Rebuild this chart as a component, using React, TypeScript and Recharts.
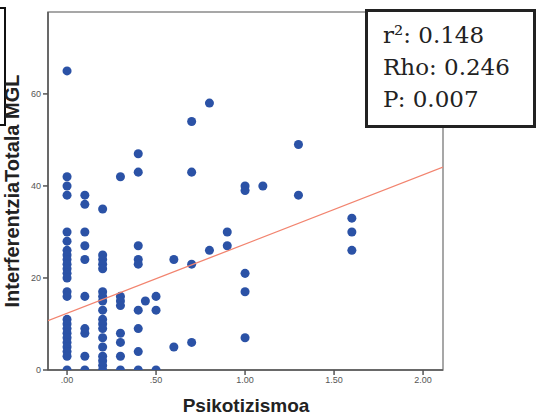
import React from 'react';
import { ScatterChart, Scatter, XAxis, YAxis, ZAxis, ReferenceArea } from 'recharts';

// values, grouped by Psikotizismoa level
const yAt000 = [65, 42, 40, 38, 30, 28, 26, 25, 24, 23, 22, 21, 20, 17, 16, 11, 10, 9, 8, 7, 6, 5, 4, 3, 0];
const yAt010 = [38, 36, 30, 27, 24, 16, 9, 8, 3, 0];
const yAt020 = [35, 25, 24, 23, 22, 17, 16, 15, 13, 11, 10, 9, 7, 5, 3, 2, 1, 0];
const yAt030 = [42, 16, 15, 14, 8, 6, 3, 0];
const yAt040 = [47, 43, 27, 24, 23, 13, 9, 4, 0];
const yAt044 = [15];
const yAt050 = [16, 13, 0];
const yAt060 = [24, 5];
const yAt070 = [54, 43, 23, 6];
const yAt080 = [58, 26];
const yAt090 = [30, 27];
const yAt100 = [40, 39, 21, 17, 7];
const yAt110 = [40];
const yAt130 = [49, 38];
const yAt160 = [33, 30, 26];

const xLevels = [0, 0.1, 0.2, 0.3, 0.4, 0.44, 0.5, 0.6, 0.7, 0.8, 0.9, 1.0, 1.1, 1.3, 1.6];
const yGroups = [yAt000, yAt010, yAt020, yAt030, yAt040, yAt044, yAt050, yAt060, yAt070, yAt080, yAt090, yAt100, yAt110, yAt130, yAt160];

// fit line end points (at the frame edges)
const fitLine = [
  { x: -0.107, y: 10.7 },
  { x: 2.112, y: 44.1 },
];

const xDomain = [-0.107, 2.112];
const yDomain = [0, 77.8];
const xTicks = [0, 0.5, 1, 1.5, 2];
const xTickLabels = ['.00', '.50', '1.00', '1.50', '2.00'];
const yTicks = [0, 20, 40, 60];

const stats = ['r²: 0.148', 'Rho: 0.246', 'P: 0.007'];

const points = xLevels.flatMap((x, i) => yGroups[i].map((y) => ({ x, y })));

const sans = '"Liberation Sans", Arial, sans-serif';

export default function App() {
  return (
    <div style={{ position: 'absolute', left: 0, top: 0, width: 538, height: 417, background: '#fff', fontFamily: sans }}>
      <ScatterChart width={538} height={417} margin={{ top: 12, right: 95, bottom: 17, left: 20 }}>
        <XAxis
          type="number"
          dataKey="x"
          domain={xDomain}
          ticks={xTicks}
          allowDataOverflow
          height={30}
          tickSize={5}
          tickFormatter={(v) => xTickLabels[xTicks.indexOf(v)] ?? ''}
          tick={{ fontSize: 9, fill: '#555' }}
          stroke="#555"
          strokeWidth={1.5}
        />
        <YAxis
          type="number"
          dataKey="y"
          domain={yDomain}
          ticks={yTicks}
          allowDataOverflow
          width={28}
          tickSize={5}
          tick={{ fontSize: 9, fill: '#555' }}
          stroke="#555"
          strokeWidth={1.5}
        />
        <ZAxis range={[30, 30]} />
        <ReferenceArea x1={xDomain[0]} x2={xDomain[1]} y1={yDomain[0]} y2={yDomain[1]} fill="none" stroke="#8a8a8a" strokeWidth={1.5} />
        <Scatter data={points} fill="#2b52a6" isAnimationActive={false} />
        <Scatter
          data={fitLine}
          line={{ stroke: '#f2846f', strokeWidth: 1.3 }}
          shape={() => null}
          isAnimationActive={false}
        />
      </ScatterChart>

      {/* cropped box at the left edge */}
      <div style={{ position: 'absolute', left: -12, top: 7, width: 18, height: 119, border: '2.5px solid #111', boxSizing: 'border-box' }} />

      <div
        style={{
          position: 'absolute', left: -138, top: 179, width: 300, height: 24, lineHeight: '24px',
          textAlign: 'center', fontSize: 20, fontWeight: 'bold', color: '#222', transform: 'rotate(-90deg)',
        }}
      >
        InterferentziaTotala MGL
      </div>
      <div
        style={{
          position: 'absolute', left: 96, top: 394, width: 300, height: 24, lineHeight: '24px',
          textAlign: 'center', fontSize: 19, fontWeight: 'bold', color: '#222',
        }}
      >
        Psikotizismoa
      </div>

      <div
        style={{
          position: 'absolute', left: 365, top: 9, width: 171, height: 119, boxSizing: 'border-box',
          border: '3px solid #222', background: '#fff', padding: '7px 0 0 15px',
          fontFamily: '"DejaVu Serif", "Liberation Serif", serif', fontSize: 23, lineHeight: '32px', color: '#222',
        }}
      >
        {stats.map((s) => (
          <div key={s}>{s}</div>
        ))}
      </div>
    </div>
  );
}
